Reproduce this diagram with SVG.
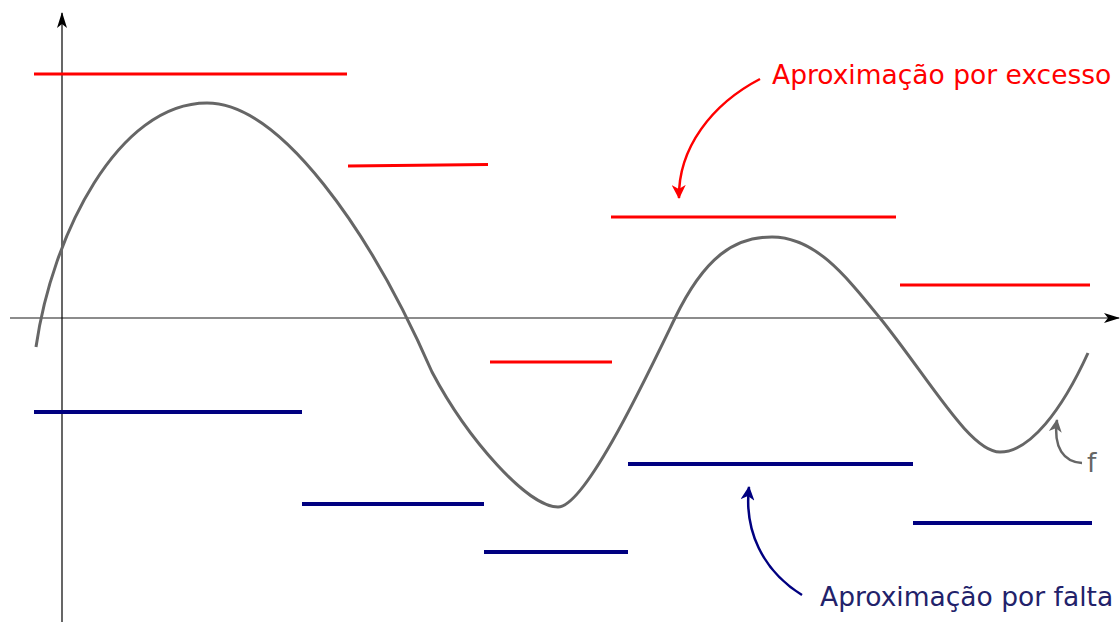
<svg xmlns="http://www.w3.org/2000/svg" width="1120" height="622" viewBox="0 0 1120 622">
  <style>
    .exc { stroke: #ff0000; stroke-width: 3; fill: none; }
    .def { stroke: #000080; stroke-width: 4; fill: none; }
    .curve { stroke: #666666; stroke-width: 3; fill: none; stroke-linejoin: round; }
    .lbl { font-family: "DejaVu Sans", sans-serif; font-size: 26.5px; }
  </style>
  <defs>
    <marker id="axArrow" viewBox="0 0 16 10" refX="15" refY="5" markerWidth="16" markerHeight="10" markerUnits="userSpaceOnUse" orient="auto">
      <path d="M0,0 L16,5 L0,10 L4,5 Z" fill="#000"/>
    </marker>
    <marker id="redArrow" viewBox="0 0 14 14" refX="13" refY="7" markerWidth="14" markerHeight="14" markerUnits="userSpaceOnUse" orient="auto">
      <path d="M0,0 L14,7 L0,14 L4,7 Z" fill="#ff0000"/>
    </marker>
    <marker id="blueArrow" viewBox="0 0 14 14" refX="13" refY="7" markerWidth="14" markerHeight="14" markerUnits="userSpaceOnUse" orient="auto">
      <path d="M0,0 L14,7 L0,14 L4,7 Z" fill="#000080"/>
    </marker>
    <marker id="grayArrow" viewBox="0 0 14 14" refX="13" refY="7" markerWidth="13" markerHeight="14" markerUnits="userSpaceOnUse" orient="auto">
      <path d="M0,0 L14,7 L0,14 L4,7 Z" fill="#666666"/>
    </marker>
  </defs>

  <g id="axes">
    <line x1="10" y1="318" x2="1119" y2="318" stroke="#666" stroke-width="1.5" marker-end="url(#axArrow)"/>
    <line x1="62" y1="622" x2="62" y2="13" stroke="#000" stroke-width="1.2" marker-end="url(#axArrow)"/>
  </g>

  <g id="excess-steps">
    <line class="exc" x1="34" y1="74" x2="347" y2="74"/>
    <line class="exc" x1="348" y1="166" x2="488" y2="164.5"/>
    <line class="exc" x1="490" y1="362" x2="612" y2="362"/>
    <line class="exc" x1="611" y1="217" x2="896" y2="217"/>
    <line class="exc" x1="900" y1="285" x2="1090" y2="285"/>
  </g>

  <g id="default-steps">
    <line class="def" x1="34" y1="412" x2="302" y2="412"/>
    <line class="def" x1="302" y1="504" x2="484" y2="504"/>
    <line class="def" x1="484" y1="552" x2="628" y2="552"/>
    <line class="def" x1="628" y1="464" x2="913" y2="464"/>
    <line class="def" x1="913" y1="523" x2="1092" y2="523"/>
  </g>

  <g id="function-f">
    <path class="curve" d="M36,347 C52,235 118,103 207,103 C280,103 370,230 432,372 C468,440 528,507 558,507 C585,507 645,380 675,318 C705,256 735,237 772,237 C815,237 845,275 880,318 C930,380 970,452 1000,452 C1030,452 1062,410 1088,353"/>
  </g>

  <g id="connectors">
    <path d="M760,79 C712,104 678,148 679,198" stroke="#ff0000" stroke-width="2.5" fill="none" marker-end="url(#redArrow)"/>
    <path d="M802,595 C762,570 744,530 749,487" stroke="#000080" stroke-width="2.5" fill="none" marker-end="url(#blueArrow)"/>
    <path d="M1082,463 C1064,462 1053,448 1057,420" stroke="#666666" stroke-width="2.5" fill="none" marker-end="url(#grayArrow)"/>
  </g>

  <g id="label-excess">
    <text class="lbl" x="772" y="84" fill="#ff0000">Aproximação por excesso</text>
  </g>
  <g id="label-default">
    <text class="lbl" x="820" y="606" fill="#22226a">Aproximação por falta</text>
  </g>
  <g id="label-f">
    <text class="lbl" x="1087" y="472" fill="#666666">f</text>
  </g>
</svg>
